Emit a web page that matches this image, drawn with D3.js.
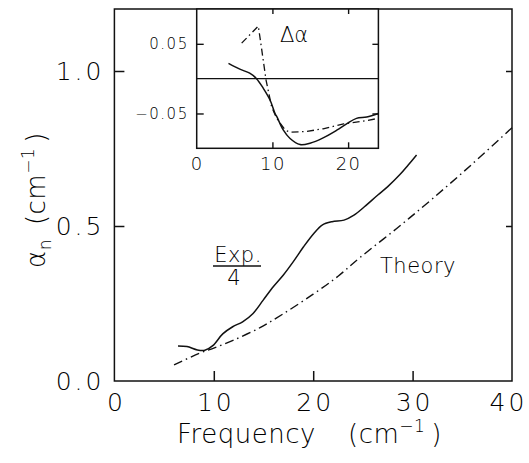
<!DOCTYPE html>
<html>
<head>
<meta charset="utf-8">
<script src="https://cdn.jsdelivr.net/npm/d3@7"></script>
<style>
  body { margin: 0; background: #fff; }
  text { font-family: "DejaVu Sans", "Liberation Sans", sans-serif; fill: #000; font-weight: 200; }
</style>
</head>
<body>
<svg id="chart"></svg>
<script>
// experiment (divided by 4), main panel
var expFreq  = [6.4, 7.3, 8.35, 9.1, 9.9, 10.9, 11.9, 12.9, 13.95, 14.97, 15.98, 17.0, 18.0, 19.03, 20.06, 20.9, 21.9, 23.1, 24.1, 25.15, 26.5, 27.5, 28.7, 29.56, 30.4];
var expAlpha = [0.113, 0.111, 0.100, 0.099, 0.114, 0.152, 0.175, 0.191, 0.218, 0.261, 0.304, 0.342, 0.385, 0.433, 0.476, 0.503, 0.514, 0.519, 0.535, 0.562, 0.600, 0.627, 0.665, 0.697, 0.729];

// theory, main panel
var thFreq  = [6.0, 8.6, 10.0, 12.0, 14.65, 17.0, 20.0, 22.5, 24.7, 28.4, 32.0, 36.0, 40.0];
var thAlpha = [0.052, 0.090, 0.106, 0.132, 0.172, 0.217, 0.280, 0.338, 0.398, 0.492, 0.588, 0.700, 0.817];

// inset: delta alpha
var insExpFreq = [4.2, 5.7, 7.0, 7.9, 8.8, 9.7, 10.35, 10.6, 11.45, 12.33, 13.65, 14.97, 16.7, 18.5, 19.8, 21.1, 22.46, 24.0];
var insExpDa   = [0.022, 0.0136, 0.0078, 0.0, -0.0139, -0.031, -0.050, -0.055, -0.074, -0.086, -0.0946, -0.0927, -0.085, -0.074, -0.065, -0.057, -0.055, -0.050];
var insThFreq = [5.94, 8.14, 8.59, 9.16, 9.9, 10.57, 11.7, 12.3, 14.5, 16.7, 19.4, 22.0, 24.0];
var insThDa   = [0.051, 0.0754, 0.0416, -0.002, -0.0406, -0.057, -0.074, -0.0768, -0.0758, -0.072, -0.065, -0.061, -0.057];

var mainXTicks = [0, 10, 20, 30, 40];
var mainYTicks = [0.0, 0.5, 1.0];
var insetXTicks = [0, 10, 20];
var insetYTicks = [-0.05, 0.05];

var svg = d3.select("#chart").attr("width", 529).attr("height", 463);

var x = d3.scaleLinear().domain([0, 40]).range([114.4, 512]);
var y = d3.scaleLinear().domain([0, 1.2]).range([381, 9]);

var xi = d3.scaleLinear().domain([0, 24]).range([196.7, 378.4]);
var yi = d3.scaleLinear().domain([-0.1, 0.1]).range([148.3, 9]);

var ink = "#111";

// main frame
svg.append("rect")
    .attr("x", x(0)).attr("y", y(1.2))
    .attr("width", x(40) - x(0)).attr("height", y(0) - y(1.2))
    .attr("fill", "none").attr("stroke", ink).attr("stroke-width", 1.5);

var gx = svg.append("g")
    .attr("transform", "translate(0," + y(0) + ")")
    .call(d3.axisBottom(x).tickValues(mainXTicks).tickFormat(d3.format("d"))
        .tickSizeInner(-10).tickSizeOuter(0).tickPadding(12));
var gy = svg.append("g")
    .attr("transform", "translate(" + x(0) + ",0)")
    .call(d3.axisLeft(y).tickValues(mainYTicks).tickFormat(d3.format(".1f"))
        .tickSizeInner(-10).tickSizeOuter(0).tickPadding(10));
var gr = svg.append("g")
    .attr("transform", "translate(" + x(40) + ",0)")
    .call(d3.axisRight(y).tickValues([0.5, 1.0]).tickFormat("")
        .tickSizeInner(-6).tickSizeOuter(0));

[gx, gy, gr].forEach(function (g) {
    g.select(".domain").remove();
    g.selectAll("line").attr("stroke", ink).attr("stroke-width", 1.5);
    g.selectAll("text").attr("fill", "#000").style("font-size", "25px")
        .style("font-family", '"DejaVu Sans", sans-serif').style("letter-spacing", "3px");
});
gx.selectAll("text").attr("dx", function (d) { return d === 40 ? "-4px" : "1.5px"; });
gx.selectAll(".tick").filter(function (d) { return d === 0 || d === 40; }).select("line").remove();
gy.selectAll(".tick").filter(function (d) { return d === 0; }).select("line").remove();

// curves
var lineMain = d3.line()
    .x(function (d) { return x(d[0]); })
    .y(function (d) { return y(d[1]); })
    .curve(d3.curveCatmullRom);

svg.append("path")
    .datum(d3.zip(thFreq, thAlpha))
    .attr("fill", "none").attr("stroke", ink).attr("stroke-width", 1.4)
    .attr("stroke-dasharray", "9,4,1.5,4")
    .attr("d", lineMain);

svg.append("path")
    .datum(d3.zip(expFreq, expAlpha))
    .attr("fill", "none").attr("stroke", ink).attr("stroke-width", 1.5)
    .attr("stroke-linejoin", "round")
    .attr("d", lineMain);

// labels in main panel
svg.append("text").attr("x", 238).attr("y", 262).attr("text-anchor", "middle")
    .style("font-size", "21px").style("letter-spacing", "0.5px").text("Exp.");
svg.append("line").attr("x1", 213).attr("x2", 261).attr("y1", 266).attr("y2", 266)
    .attr("stroke", ink).attr("stroke-width", 1.5);
svg.append("text").attr("x", 234).attr("y", 285).attr("text-anchor", "middle")
    .style("font-size", "21px").text("4");
svg.append("text").attr("x", 380).attr("y", 273).style("font-size", "21px")
    .style("letter-spacing", "0.5px").text("Theory");

// inset
svg.append("rect")
    .attr("x", xi(0)).attr("y", yi(0.1))
    .attr("width", xi(24) - xi(0)).attr("height", yi(-0.1) - yi(0.1))
    .attr("fill", "#fff").attr("stroke", ink).attr("stroke-width", 1.5);

var gxi = svg.append("g")
    .attr("transform", "translate(0," + yi(-0.1) + ")")
    .call(d3.axisBottom(xi).tickValues(insetXTicks).tickFormat(d3.format("d"))
        .tickSizeInner(-6).tickSizeOuter(0).tickPadding(9));
var gti = svg.append("g")
    .attr("transform", "translate(0," + yi(0.1) + ")")
    .call(d3.axisTop(xi).tickValues([10, 20]).tickFormat("")
        .tickSizeInner(-5).tickSizeOuter(0));
var gyi = svg.append("g")
    .attr("transform", "translate(" + xi(0) + ",0)")
    .call(d3.axisLeft(yi).tickValues(insetYTicks).tickFormat(d3.format(".2f"))
        .tickSizeInner(-7).tickSizeOuter(0).tickPadding(8));
var gri = svg.append("g")
    .attr("transform", "translate(" + xi(24) + ",0)")
    .call(d3.axisRight(yi).tickValues(insetYTicks).tickFormat("")
        .tickSizeInner(-6).tickSizeOuter(0));

[gxi, gti, gyi, gri].forEach(function (g) {
    g.select(".domain").remove();
    g.selectAll("line").attr("stroke", ink).attr("stroke-width", 1.4);
    g.selectAll("text").attr("fill", "#000")
        .style("font-family", '"DejaVu Sans", sans-serif').style("letter-spacing", "1.5px");
});
gxi.selectAll("text").style("font-size", "18px");
gyi.selectAll("text").style("font-size", "15px");
gxi.selectAll(".tick").filter(function (d) { return d === 0; }).select("line").remove();

// zero line
svg.append("line")
    .attr("x1", xi(0)).attr("x2", xi(24)).attr("y1", yi(0)).attr("y2", yi(0))
    .attr("stroke", ink).attr("stroke-width", 1.4);

var lineInsExp = d3.line()
    .x(function (d) { return xi(d[0]); })
    .y(function (d) { return yi(d[1]); })
    .curve(d3.curveCatmullRom);
var lineInsTh = d3.line()
    .x(function (d) { return xi(d[0]); })
    .y(function (d) { return yi(d[1]); })
    .curve(d3.curveLinear);

svg.append("path")
    .datum(d3.zip(insThFreq, insThDa))
    .attr("fill", "none").attr("stroke", ink).attr("stroke-width", 1.3)
    .attr("stroke-dasharray", "7,3.5,1.5,3.5")
    .attr("d", lineInsTh);
svg.append("path")
    .datum(d3.zip(insExpFreq, insExpDa))
    .attr("fill", "none").attr("stroke", ink).attr("stroke-width", 1.5)
    .attr("d", lineInsExp);

svg.append("text").attr("x", 280).attr("y", 42).style("font-size", "21px").text("Δα");

// axis titles
var xt = svg.append("text").attr("y", 443).style("font-size", "26px").style("letter-spacing", "0.5px");
xt.append("tspan").attr("x", 177).text("Frequency");
xt.append("tspan").attr("x", 348).text("(cm");
xt.append("tspan").attr("dy", -11).style("font-size", "17px").text("−1");
xt.append("tspan").attr("dx", 6).attr("dy", 11).text(")");

var yt = svg.append("text").attr("transform", "translate(45,268) rotate(-90)")
    .style("font-size", "26px").style("letter-spacing", "0.5px");
yt.append("tspan").attr("x", 0).text("α");
yt.append("tspan").attr("dy", 6).style("font-size", "17px").text("n");
yt.append("tspan").attr("dx", 14).attr("dy", -6).text("(cm");
yt.append("tspan").attr("dy", -11).style("font-size", "17px").text("−1");
yt.append("tspan").attr("dx", 5).attr("dy", 11).text(")");
</script>
</body>
</html>
